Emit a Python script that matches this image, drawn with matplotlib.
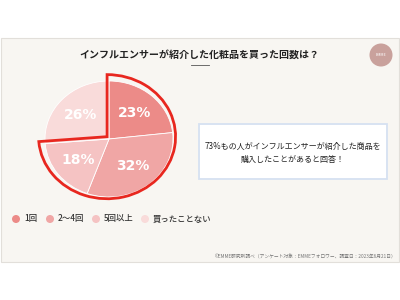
import numpy as np
import matplotlib
matplotlib.use("Agg")
import matplotlib.pyplot as plt
from matplotlib.patches import Rectangle, Circle, Wedge

plt.rcParams["font.family"] = ["Noto Sans CJK JP", "DejaVu Sans"]

# data
title = "インフルエンサーが紹介した化粧品を買った回数は？"
categories = ["1回", "2〜4回", "5回以上", "買ったことない"]
values = [23, 32, 18, 26]
colors = ["#ec8b88", "#f0a6a5", "#f5c3c3", "#f9dbda"]
highlight_n = 3  # first three slices = 73%
note_lines = ["73%もの人がインフルエンサーが紹介した商品を", "購入したことがあると回答！"]
source = "©EMME研究所調べ（アンケート対象：EMMEフォロワー、調査日：2023年6月21日）"

fig = plt.figure(figsize=(4, 3), dpi=100)
fig.patch.set_facecolor("white")

# background / decoration axes in pixel coords
bg = fig.add_axes([0, 0, 1, 1])
bg.set_xlim(0, 400)
bg.set_ylim(300, 0)
bg.axis("off")

bg.add_patch(Rectangle((1, 38), 398, 224, facecolor="#f8f6f2", edgecolor="#e2dfda", lw=0.8))
bg.text(199, 55, title, ha="center", va="center", fontsize=7.2, fontweight="bold", color="#222222")
bg.plot([191, 209], [65, 65], color="#555555", lw=0.6)

# logo
bg.add_patch(Circle((381, 55), 11.5, facecolor="#c9a19c", edgecolor="none"))
bg.text(381, 54.5, "EMME", ha="center", va="center", fontsize=2.8, color="white")

# note box
bg.add_patch(Rectangle((199, 124), 188, 55, facecolor="white", edgecolor="#d6e1f1", lw=1.3))
bg.text(293, 146, note_lines[0], ha="center", va="center", fontsize=5.8, color="#222222")
bg.text(293, 159, note_lines[1], ha="center", va="center", fontsize=5.8, color="#222222")

# legend
leg_x = [16, 50, 96, 145]
for x, lab, c in zip(leg_x, categories, colors):
    bg.add_patch(Circle((x, 219), 4, facecolor=c, edgecolor="none"))
    bg.text(x + 8, 219, lab, ha="left", va="center", fontsize=6.0, color="#333333", fontweight="medium")

bg.text(396, 257, source, ha="right", va="center", fontsize=3.4, color="#777777")

# pie (slightly squashed vertically like the source)
cx, cy = 109, 139
rx, ry = 64, 58
box_w, box_h = 80, 72
pie_ax = fig.add_axes([(cx - box_w) / 400, (300 - cy - box_h) / 300, 2 * box_w / 400, 2 * box_h / 300])
wedges, _ = pie_ax.pie(values, colors=colors, startangle=90, counterclock=False,
                       radius=1.0, wedgeprops=dict(edgecolor="white", linewidth=0.6))
pie_ax.set_aspect("auto")
pie_ax.set_xlim(-box_w / rx, box_w / rx)
pie_ax.set_ylim(-box_h / ry, box_h / ry)
pie_ax.axis("off")

for w, v in zip(wedges, values):
    ang = np.deg2rad((w.theta1 + w.theta2) / 2)
    pie_ax.text(0.6 * np.cos(ang), 0.6 * np.sin(ang), f"{v}%", ha="center", va="center",
                fontsize=10, fontweight="bold", color="white", family="DejaVu Sans")

# red outline around the highlighted share
t_start = wedges[highlight_n - 1].theta1
t_end = wedges[0].theta2
pie_ax.add_patch(Wedge((-0.03, 0.04), 1.07, t_start, t_end, facecolor="none",
                       edgecolor="#e8271f", linewidth=2.0, joinstyle="miter"))

fig.savefig("out.png", dpi=100)
